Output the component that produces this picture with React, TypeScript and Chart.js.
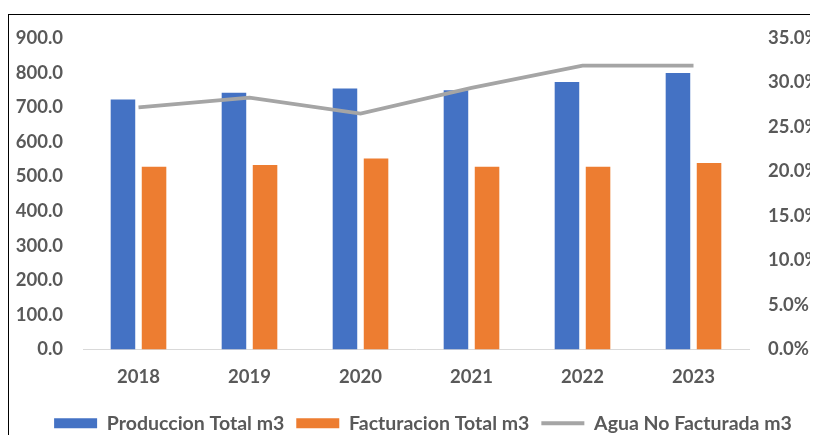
import React, { useEffect, useRef } from "react";
import { Chart, registerables } from "chart.js";

Chart.register(...registerables);

const years = ["2018", "2019", "2020", "2021", "2022", "2023"];
const produccion = [722, 742, 754, 749, 773, 799];
const facturacion = [528, 533, 552, 528, 528, 539];
const aguaNoFacturada = [27.2, 28.3, 26.5, 29.4, 31.9, 31.9];

const FONT = "Lato";
const TEXT = "#595959";

export default function App() {
  const ref = useRef<HTMLCanvasElement | null>(null);

  useEffect(() => {
    if (!ref.current) return;
    const chart = new Chart(ref.current, {
      type: "bar",
      data: {
        labels: years,
        datasets: [
          {
            label: "Produccion Total m3",
            data: produccion,
            backgroundColor: "#4472C4",
            borderWidth: 0,
            yAxisID: "y",
            order: 1,
            pointStyle: "rect",
            categoryPercentage: 0.56,
            barPercentage: 0.79,
          } as any,
          {
            label: "Facturacion Total m3",
            data: facturacion,
            backgroundColor: "#ED7D31",
            borderWidth: 0,
            yAxisID: "y",
            order: 1,
            pointStyle: "rect",
            categoryPercentage: 0.56,
            barPercentage: 0.79,
          } as any,
          {
            type: "line",
            label: "Agua No Facturada m3",
            data: aguaNoFacturada,
            borderColor: "#A5A5A5",
            backgroundColor: "#A5A5A5",
            borderWidth: 3.8,
            pointRadius: 0,
            pointStyle: "line",
            tension: 0,
            yAxisID: "y1",
            order: 0,
          } as any,
        ],
      },
      options: {
        responsive: false,
        animation: false,
        layout: { padding: { top: 24, left: 0, right: 0, bottom: -2 } },
        plugins: {
          tooltip: { enabled: false },
          legend: {
            position: "bottom",
            labels: {
              usePointStyle: true,
              pointStyleWidth: 43,
              boxHeight: 10,
              padding: 12,
              color: TEXT,
              font: { family: FONT, size: 19.5, weight: "bold" },
              sort: (a: any, b: any) => a.datasetIndex - b.datasetIndex,
            },
          },
        },
        scales: {
          x: {
            grid: { display: false, drawTicks: false },
            border: { display: true, color: "#D9D9D9", width: 1 },
            ticks: {
              color: TEXT,
              font: { family: FONT, size: 18.5, weight: "bold" },
              padding: 16,
            },
            afterFit: (s: any) => {
              s.height = 52;
            },
          },
          y: {
            position: "left",
            min: 0,
            max: 900,
            grid: { display: false, drawTicks: false },
            border: { display: false },
            ticks: {
              stepSize: 100,
              color: TEXT,
              padding: 20,
              font: { family: FONT, size: 18.5, weight: "bold" },
              callback: (v: any) => Number(v).toFixed(1),
            },
            afterFit: (s: any) => {
              s.width = 75;
              s.paddingTop = 0;
              s.paddingBottom = 0;
            },
          },
          y1: {
            position: "right",
            min: 0,
            max: 35,
            grid: { display: false, drawTicks: false },
            border: { display: false },
            ticks: {
              stepSize: 5,
              color: TEXT,
              padding: 19,
              font: { family: FONT, size: 18.5, weight: "bold" },
              callback: (v: any) => Number(v).toFixed(1) + "%",
            },
            afterFit: (s: any) => {
              s.width = 89;
              s.paddingTop = 0;
              s.paddingBottom = 0;
            },
          },
        },
      } as any,
    });
    return () => chart.destroy();
  }, []);

  return (
    <div style={{ position: "relative", top: 6, width: 810, height: 427, overflow: "hidden", background: "#fff" }}>
      <canvas ref={ref} width={830} height={427} style={{ position: "absolute", left: 0, top: 0 }} />
      <div
        style={{
          position: "absolute",
          left: 0,
          top: 0,
          width: 900,
          height: 600,
          border: "1px solid #000",
          boxSizing: "border-box",
          pointerEvents: "none",
        }}
      />
    </div>
  );
}
